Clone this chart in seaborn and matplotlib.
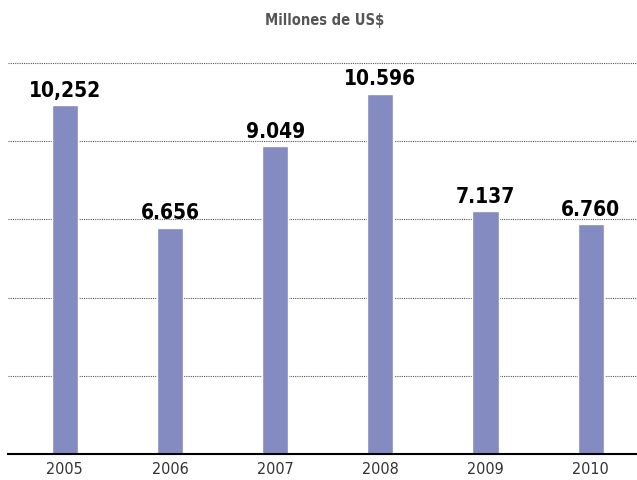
import matplotlib
matplotlib.use("Agg")
import matplotlib.pyplot as plt
import seaborn as sns
import pandas as pd

# Datos
years = ["2005", "2006", "2007", "2008", "2009", "2010"]
values = [10252, 6656, 9049, 10596, 7137, 6760]
value_labels = ["10,252", "6.656", "9.049", "10.596", "7.137", "6.760"]

sns.set_style("white")
plt.rcParams["font.family"] = ["DejaVu Sans"]
plt.rcParams["font.stretch"] = "condensed"

df = pd.DataFrame({"year": years, "value": values})

fig = plt.figure(figsize=(6.37, 4.81), dpi=100)
ax = fig.add_axes([8 / 637, 26 / 481, 629 / 637, 425 / 481])

sns.barplot(data=df, x="year", y="value", color="#848bc0", width=0.25,
            saturation=1, ax=ax, zorder=3)

ax.set_xlim(-0.54, 5.44)
ax.set_ylim(0, 12500)

# Cuadrícula punteada
ax.set_yticks([2300, 4600, 6900, 9200, 11500])
ax.yaxis.grid(True, linestyle=(0, (1, 1)), color="#555555", linewidth=0.8)
ax.set_yticklabels([])
ax.tick_params(axis="y", length=0)
ax.tick_params(axis="x", length=0, pad=5, labelsize=11.5, labelcolor="#333333")

for s in ["top", "right", "left"]:
    ax.spines[s].set_visible(False)
ax.spines["bottom"].set_color("black")
ax.spines["bottom"].set_linewidth(1.5)
ax.spines["bottom"].set_zorder(4)

ax.set_xlabel("")
ax.set_ylabel("")

# Etiquetas de valores
for i, (v, lab) in enumerate(zip(values, value_labels)):
    ax.annotate(lab, (i, v), xytext=(0, 4), textcoords="offset points",
                ha="center", va="bottom", fontsize=15, fontweight="bold",
                color="black")

fig.text(325 / 637, 1 - 20 / 481, "Millones de US$", ha="center", va="center",
         fontsize=10.5, fontweight="bold", color="#555555")

fig.savefig("out.png", dpi=100)
